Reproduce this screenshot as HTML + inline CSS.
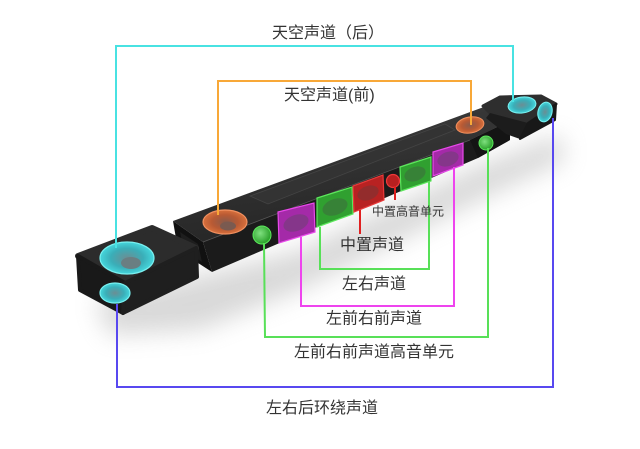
<!DOCTYPE html>
<html><head><meta charset="utf-8"><style>
html,body{margin:0;padding:0;background:#fff;}
svg{display:block;}
text{font-family:"Liberation Sans","Noto Sans CJK SC",sans-serif;fill:#333;}
</style></head><body>
<svg width="640" height="449" viewBox="0 0 640 449" xmlns="http://www.w3.org/2000/svg">
<defs>
<filter id="blur" x="-50%" y="-50%" width="200%" height="200%"><feGaussianBlur stdDeviation="12"/></filter>
<linearGradient id="topg" x1="0" y1="0" x2="0.3" y2="1"><stop offset="0" stop-color="#3e3e3e"/><stop offset="1" stop-color="#262626"/></linearGradient>
<radialGradient id="cy" cx="0.5" cy="0.5" r="0.5"><stop offset="0" stop-color="#6b8e94"/><stop offset="0.6" stop-color="#3aaeb8"/><stop offset="1" stop-color="#45d6dc"/></radialGradient>
<radialGradient id="or" cx="0.5" cy="0.5" r="0.5"><stop offset="0" stop-color="#8a5a4a"/><stop offset="0.6" stop-color="#b85a34"/><stop offset="1" stop-color="#d8703c"/></radialGradient>
<radialGradient id="gr" cx="0.4" cy="0.4" r="0.6"><stop offset="0" stop-color="#7fe07f"/><stop offset="1" stop-color="#2aa02a"/></radialGradient>
</defs>

<!-- shadow -->
<polygon points="95,300 200,275 300,250 480,165 560,135 565,160 480,200 300,290 200,330 110,335" fill="#aaa" opacity="0.45" filter="url(#blur)"/>

<!-- main bar -->
<polygon points="173,221 492,104 510,121 470,140 203,242" fill="url(#topg)"/>
<polygon points="250,196 445,124 455,130 268,204" fill="#333" stroke="#444" stroke-width="0.8"/>
<polygon points="203,242 470,140 510,121 510,140 478,158 212,272" fill="#1b1b1b"/>
<polygon points="470,140 510,121 510,140 478,158" fill="#141414"/>
<polygon points="173,221 203,242 212,272 178,250" fill="#111"/>
<polygon points="180,232 198,244 202,262 184,250" fill="#1e1e1e"/>
<line x1="203" y1="242" x2="470" y2="140" stroke="#555" stroke-width="0.8"/>

<!-- right module -->
<polygon points="483,106 500,97 541,96 556,104 528,123 490,113" fill="#2e2e2e" stroke="#2e2e2e" stroke-width="3" stroke-linejoin="round"/>
<polygon points="490,113 528,123 520,139 506,134 486,118" fill="#1c1c1c"/>
<polygon points="528,123 556,104 555,120 520,139" fill="#181818" stroke="#181818" stroke-width="2" stroke-linejoin="round"/>

<!-- left module -->
<polygon points="78,256 152,228 196,248 125,283" fill="#2c2c2c" stroke="#2c2c2c" stroke-width="6" stroke-linejoin="round"/>
<polygon points="78,256 125,283 123,313 80,290" fill="#191919" stroke="#191919" stroke-width="4" stroke-linejoin="round"/>
<polygon points="125,283 196,248 197,277 123,313" fill="#1f1f1f" stroke="#1f1f1f" stroke-width="4" stroke-linejoin="round"/>

<!-- speaker overlays on bar -->
<g stroke-width="1.2">
<polygon points="278,212 314,203 315,232 279,243" fill="#a42aa8" stroke="#e848ea"/>
<ellipse cx="296" cy="223" rx="13" ry="8" transform="rotate(-20 296 223)" fill="#7d3a82" opacity="0.8"/>
<polygon points="317,198 352,187 353,214 317,227" fill="#30a030" stroke="#5ce85c"/>
<ellipse cx="335" cy="207" rx="13" ry="8" transform="rotate(-20 335 207)" fill="#3a7a3a" opacity="0.8"/>
<polygon points="353,186 383,175 384,200 354,212" fill="#b82222" stroke="#e83a3a"/>
<ellipse cx="368" cy="193" rx="11" ry="7" transform="rotate(-20 368 193)" fill="#8a3030" opacity="0.8"/>
<polygon points="400,167 431,157 431,181 401,191" fill="#30a030" stroke="#5ce85c"/>
<ellipse cx="415" cy="174" rx="11" ry="7" transform="rotate(-20 415 174)" fill="#3a7a3a" opacity="0.8"/>
<polygon points="433,152 463,143 463,165 433,176" fill="#a42aa8" stroke="#e848ea"/>
<ellipse cx="448" cy="159" rx="11" ry="7" transform="rotate(-20 448 159)" fill="#7d3a82" opacity="0.8"/>
<circle cx="393" cy="181" r="6.5" fill="#b82020" stroke="#ee3a3a"/>
</g>

<!-- round drivers -->
<ellipse cx="225" cy="222" rx="22" ry="12" fill="url(#or)" stroke="#f09060" stroke-width="1.2"/>
<ellipse cx="228" cy="226" rx="8" ry="4.5" fill="#7a5a50"/>
<ellipse cx="470" cy="125" rx="14" ry="8" transform="rotate(-10 470 125)" fill="url(#or)" stroke="#f09060" stroke-width="1"/>
<circle cx="262" cy="235" r="9" fill="url(#gr)" stroke="#5ce85c" stroke-width="1"/>
<circle cx="486" cy="143" r="7" fill="url(#gr)" stroke="#5ce85c" stroke-width="1"/>
<ellipse cx="127" cy="258" rx="27" ry="16" fill="url(#cy)" stroke="#7af0f0" stroke-width="1.2"/>
<ellipse cx="131" cy="263" rx="10" ry="6" fill="#6a7e82"/>
<ellipse cx="115" cy="293" rx="15" ry="10" fill="url(#cy)" stroke="#7af0f0" stroke-width="1.2"/>
<ellipse cx="522" cy="105" rx="14" ry="8" transform="rotate(-8 522 105)" fill="url(#cy)" stroke="#7af0f0" stroke-width="1"/>
<ellipse cx="545" cy="112" rx="7" ry="10" transform="rotate(15 545 112)" fill="url(#cy)" stroke="#7af0f0" stroke-width="1"/>

<!-- connector lines -->
<g fill="none" stroke-width="2">
<polyline points="116,248 116,46 513,46 513,102" stroke="#48e2e2"/>
<polyline points="218,215 218,81 471,81 471,125" stroke="#f8a838"/>
<polyline points="117,304 117,387 553,387 553,118" stroke="#5848f0"/>
<polyline points="264,243 265,337 488,337 488,148" stroke="#58e058"/>
<polyline points="301,237 301,306 454,306 454,167" stroke="#ee44ee"/>
<polyline points="320,227 320,269 429,269 429,181" stroke="#58e058"/>
<line x1="360" y1="210" x2="360" y2="234" stroke="#e02020"/>
<line x1="395" y1="186" x2="395" y2="200" stroke="#e02020"/>
</g>

<!-- labels -->
<text x="272" y="38" font-size="16">天空声道（后）</text>
<text x="284" y="100" font-size="16">天空声道(前)</text>
<text x="372" y="215.5" font-size="12">中置高音单元</text>
<text x="340" y="250" font-size="16">中置声道</text>
<text x="342" y="289" font-size="16">左右声道</text>
<text x="326" y="323.5" font-size="16">左前右前声道</text>
<text x="294" y="357" font-size="16">左前右前声道高音单元</text>
<text x="266" y="413" font-size="16">左右后环绕声道</text>
</svg>
</body></html>
